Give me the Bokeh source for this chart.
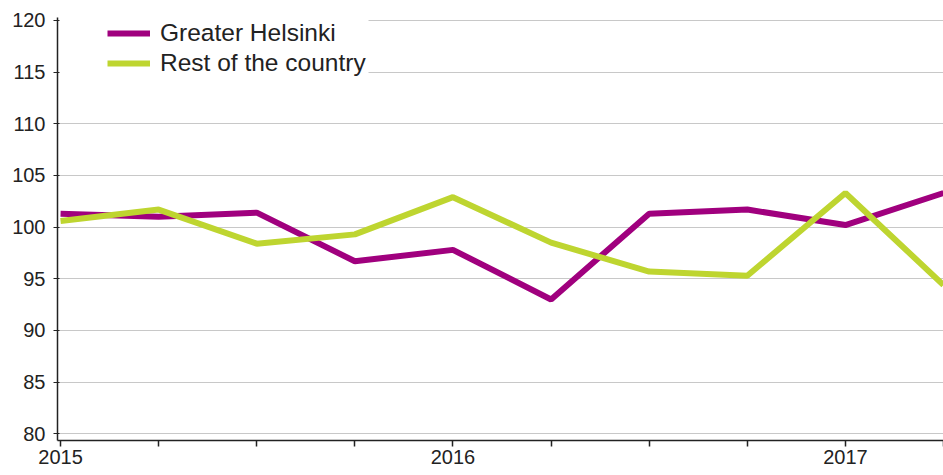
from bokeh.plotting import figure
from bokeh.models import Range1d, FixedTicker, Legend, LegendItem, ColumnDataSource, Grid
from bokeh.embed import file_html
from bokeh.resources import INLINE

# ---- data ----
quarters = ["2015Q1", "2015Q2", "2015Q3", "2015Q4", "2016Q1", "2016Q2",
            "2016Q3", "2016Q4", "2017Q1", "2017Q2"]
helsinki = [101.3, 101.0, 101.4, 96.7, 97.8, 93.0, 101.3, 101.7, 100.2, 103.3]
rest_of_country = [100.6, 101.7, 98.4, 99.3, 102.9, 98.5, 95.7, 95.3, 103.3, 94.4]
year_labels = {0: "2015", 4: "2016", 8: "2017"}
y_ticks = [80, 85, 90, 95, 100, 105, 110, 115, 120]

xs = list(range(len(quarters)))
src = ColumnDataSource(dict(x=xs, q=quarters, h=helsinki, r=rest_of_country))

p = figure(width=943, height=475, output_backend="svg", toolbar_location=None,
           x_range=Range1d(-0.031, len(quarters) - 1),
           y_range=Range1d(79.35, 120.29),
           min_border_left=57, min_border_right=0, min_border_top=17,
           min_border_bottom=35)
p.outline_line_color = None
p.background_fill_color = "white"
p.border_fill_color = "white"

PURPLE = "#A0007E"
GREEN = "#BED530"

r1 = p.line("x", "h", source=src, line_color=PURPLE, line_width=6)
r2 = p.line("x", "r", source=src, line_color=GREEN, line_width=6)

# axes
p.xaxis.ticker = FixedTicker(ticks=xs)
p.xaxis.major_label_overrides = {i: year_labels.get(i, "") for i in xs}
p.xaxis.minor_tick_line_color = None
p.xaxis.major_tick_in = 0
p.xaxis.major_tick_out = 6
p.xaxis.major_label_standoff = 3
p.xaxis.axis_line_width = 1.5
p.xaxis.axis_line_color = "#222222"
p.xaxis.major_tick_line_color = "#222222"
p.xaxis.major_tick_line_width = 1.5

p.yaxis.ticker = FixedTicker(ticks=y_ticks)
p.yaxis.minor_tick_line_color = None
p.yaxis.major_tick_in = 2
p.yaxis.major_tick_out = 4
p.yaxis.major_label_standoff = 8
p.yaxis.axis_line_width = 1.5
p.yaxis.axis_line_color = "#222222"
p.yaxis.major_tick_line_color = "#222222"

for ax in (p.xaxis, p.yaxis):
    ax.major_label_text_font = "Liberation Sans"
    ax.major_label_text_font_size = "20px"
    ax.major_label_text_color = "#222222"

p.xgrid.grid_line_color = None
# gridlines below the legend run across the full width
p.ygrid.ticker = FixedTicker(ticks=[t for t in y_ticks if t <= 110])
p.ygrid.grid_line_color = "#C8C8C8"
p.ygrid.grid_line_width = 1
# gridlines behind the legend box start right of it
top_grid = Grid(dimension=1, ticker=FixedTicker(ticks=[t for t in y_ticks if t > 110]),
                cross_bounds=(3.14, len(quarters) - 1),
                grid_line_color="#C8C8C8", grid_line_width=1)
p.add_layout(top_grid)

legend = Legend(items=[LegendItem(label="Greater Helsinki", renderers=[r1]),
                       LegendItem(label="Rest of the country", renderers=[r2])],
                location=(50, 362), padding=30, margin=0, spacing=0,
                glyph_width=43, glyph_height=30, label_height=30,
                label_standoff=10, border_line_color=None,
                background_fill_color="white", background_fill_alpha=1.0,
                label_text_font="Liberation Sans", label_text_font_size="24.5px",
                label_text_color="#222222")
p.add_layout(legend, "center")

open("out.html", "w").write(file_html(p, INLINE))
